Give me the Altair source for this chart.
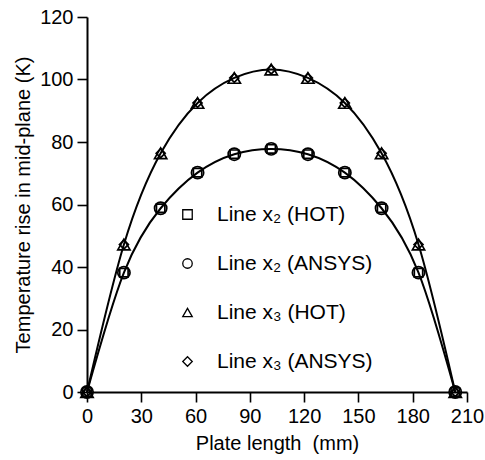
import altair as alt
import pandas as pd

# Data
x_pos = [0, 20.4, 40.7, 61.1, 81.4, 101.8, 122.1, 142.5, 162.8, 183.2, 203.5]
x2_hot = [0, 38.2, 58.8, 70.2, 76.1, 77.8, 76.1, 70.2, 58.8, 38.2, 0]
x2_ansys = [0, 38.2, 58.8, 70.2, 76.1, 77.8, 76.1, 70.2, 58.8, 38.2, 0]
x3_hot = [0, 47.2, 76.4, 92.5, 100.5, 103.2, 100.5, 92.5, 76.4, 47.2, 0]
x3_ansys = [0, 47.2, 76.4, 92.5, 100.5, 103.2, 100.5, 92.5, 76.4, 47.2, 0]

series_names = ["Line x\u2082 (HOT)", "Line x\u2082 (ANSYS)", "Line x\u2083 (HOT)", "Line x\u2083 (ANSYS)"]
series_curve = ["x2", "x2", "x3", "x3"]
series_vals = [x2_hot, x2_ansys, x3_hot, x3_ansys]
shapes = ["square", "circle", "triangle-up", "diamond"]
marker_sizes = [70, 150, 150, 80]
x_ticks = [0, 30, 60, 90, 120, 150, 180, 210]
y_ticks = [0, 20, 40, 60, 80, 100, 120]

rows = []
for name, curve, vals in zip(series_names, series_curve, series_vals):
    for xv, yv in zip(x_pos, vals):
        rows.append({"x": xv, "y": yv, "series": name, "curve": curve})
df = pd.DataFrame(rows)
line_df = df[df["series"].isin([series_names[0], series_names[2]])]

FONT = "Liberation Sans"

x_enc = alt.X("x:Q", scale=alt.Scale(domain=[0, 210], nice=False),
              axis=alt.Axis(values=x_ticks, title="Plate length\u00a0\u00a0(mm)",
                            labelFlush=False))
y_enc = alt.Y("y:Q", scale=alt.Scale(domain=[0, 120], nice=False),
              axis=alt.Axis(values=y_ticks, title="Temperature rise in mid-plane (K)",
                            labelFlush=False))

lines = alt.Chart(line_df).mark_line(
    interpolate="natural", color="black", strokeWidth=2
).encode(x=x_enc, y=y_enc, detail="curve:N")

legend = alt.Legend(
    title=None, orient="none", legendX=90, legendY=187,
    symbolStrokeColor="black", symbolFillColor="white",
    symbolSize=90, symbolStrokeWidth=1.3,
    labelFont=FONT, labelFontSize=21, labelColor="black",
    labelOffset=19, rowPadding=27, padding=0,
)

layers = [lines]
for name, msize in zip(series_names, marker_sizes):
    layers.append(
        alt.Chart(df[df["series"] == name]).mark_point(
            filled=False, color="black", strokeWidth=1.7, opacity=1, size=msize
        ).encode(
            x=x_enc, y=y_enc,
            shape=alt.Shape("series:N",
                            scale=alt.Scale(domain=series_names, range=shapes),
                            sort=series_names, legend=legend),
        )
    )

chart = alt.layer(*layers).properties(
    width=380, height=375,
    autosize=alt.AutoSizeParams(type="none"),
    padding={"left": 87, "top": 17, "right": 18, "bottom": 68},
).configure_view(stroke=None).configure_axis(
    grid=False, domainColor="black", domainWidth=2, tickColor="black",
    tickWidth=1.6, tickSize=10, labelFont=FONT, labelFontSize=20,
    labelColor="black", titleFont=FONT, titleFontSize=20, titleFontWeight="normal",
    titleColor="black", labelPadding=4,
).configure_axisX(titlePadding=7).configure_axisY(titlePadding=6)

chart.save("out.html", embed_options={"renderer": "svg", "actions": False})
